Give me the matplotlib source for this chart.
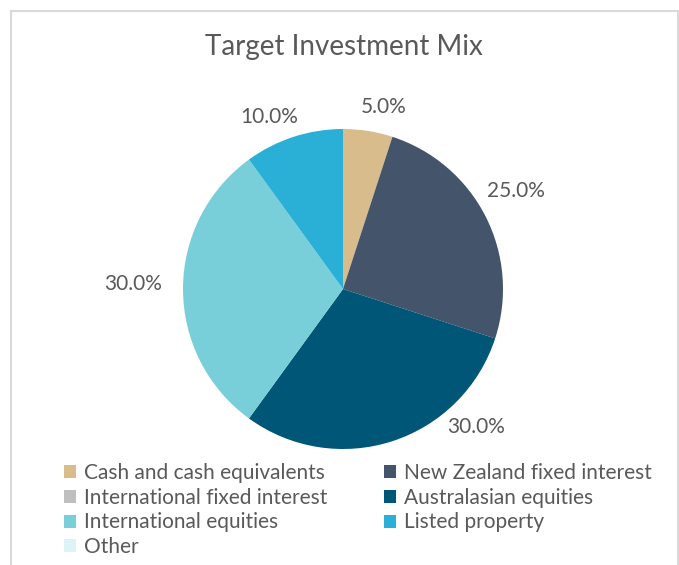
import matplotlib.pyplot as plt
from matplotlib.patches import Rectangle

# Target investment mix (percent of fund)
categories = ["Cash and cash equivalents", "New Zealand fixed interest",
              "International fixed interest", "Australasian equities",
              "International equities", "Listed property", "Other"]
shares = [5.0, 25.0, 0.0, 30.0, 30.0, 10.0, 0.0]
colors = ["#D9BC8C", "#44546A", "#BFBFBF", "#005677",
          "#78CFD9", "#2AAFD6", "#DDF3F6"]

# where each percentage label sits, in pie-radius units from the centre (layout only)
label_xy = [(0.256, 1.14), (1.08, 0.61), None, (0.83, -0.86),
            (-1.31, 0.03), (-0.46, 1.075), None]

plt.rcParams['font.family'] = ['Lato', 'DejaVu Sans']
txt_color = "#595959"

fig = plt.figure(figsize=(6.79, 5.65), dpi=100)
ax = fig.add_axes([0, 0, 1, 1])

wedges, _ = ax.pie(shares, colors=colors, startangle=90, counterclock=False,
                   radius=1.0, wedgeprops=dict(linewidth=0))

# 1 data unit = 160 px, pie centre at pixel (343, 289)
r = 160.0
ax.set_xlim(-343 / r, (679 - 343) / r)
ax.set_ylim(-(565 - 289) / r, 289 / r)
ax.set_aspect('equal')
ax.axis('off')

for val, pos in zip(shares, label_xy):
    if val > 0 and pos is not None:
        ax.text(pos[0], pos[1], f"{val:.1f}%", ha='center', va='center',
                fontsize=15, color=txt_color)

fig.text(344 / 679, 1 - 47 / 565, "Target Investment Mix", ha='center', va='center',
         fontsize=20, color=txt_color)

# legend, row-major order like the original (col 1: even items, col 2: odd items)
order = [0, 2, 4, 6, 1, 3, 5]
leg = fig.legend([wedges[i] for i in order], [categories[i] for i in order],
                 ncol=2, loc='upper left', bbox_to_anchor=(64 / 679, 1 - 463 / 565),
                 frameon=False, fontsize=15, labelcolor=txt_color,
                 handlelength=0.58, handleheight=0.58, handletextpad=0.36,
                 labelspacing=0.225, columnspacing=2.75, borderpad=0, borderaxespad=0)

# light grey chart frame, open at the bottom
fig.patches.append(Rectangle((11 / 679, -0.05), (678 - 11) / 679, 1.05 - 11 / 565,
                             transform=fig.transFigure, fill=False,
                             edgecolor="#D9D9D9", linewidth=1.5))

fig.savefig("out.png", dpi=100)
